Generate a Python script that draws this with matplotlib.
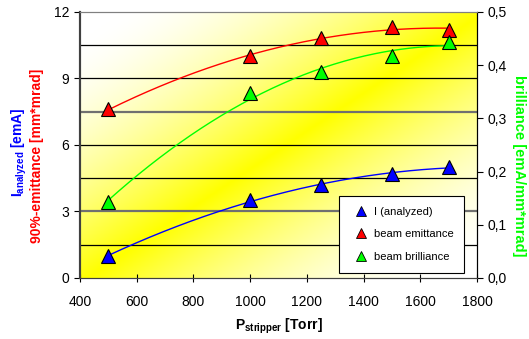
import numpy as np
import matplotlib
matplotlib.use("Agg")
import matplotlib.pyplot as plt
from matplotlib.lines import Line2D

plt.rcParams['font.family'] = ['Liberation Sans', 'DejaVu Sans']

# data
p_stripper = [500, 1000, 1250, 1500, 1700]
i_analyzed = [1.0, 3.5, 4.2, 4.7, 5.0]
emittance = [7.6, 10.0, 10.8, 11.3, 11.2]
brilliance = [0.143, 0.348, 0.387, 0.417, 0.444]

left_ticks = [0, 3, 6, 9, 12]
right_ticks = [0.0, 0.1, 0.2, 0.3, 0.4, 0.5]
right_labels = ['0,0', '0,1', '0,2', '0,3', '0,4', '0,5']
x_ticks = [400, 600, 800, 1000, 1200, 1400, 1600, 1800]

fig = plt.figure(figsize=(5.29, 3.39), dpi=100)
ax = fig.add_axes([0.151, 0.180, 0.751, 0.785])
ax2 = ax.twinx()

# gradient background: white top-left, yellow along the diagonal, pale bottom-right
nx, ny = 300, 200
u = np.linspace(0, 1, nx)[None, :]
v = np.linspace(0, 1, ny)[:, None]
s = u + v
w = np.clip(1 - np.abs(s - 1.02) * 1.1, 0, 1) ** 1.6
img = np.ones((ny, nx, 3))
img[..., 2] = 1 - w
ax.imshow(img, extent=[0, 1, 0, 1], transform=ax.transAxes, aspect='auto',
          origin='upper', zorder=0)

# horizontal grid lines
for yv in [1.5, 4.5, 6, 9, 10.5]:
    ax.axhline(yv, color='black', lw=0.9, zorder=1)
for yv in [3, 7.5]:
    ax.axhline(yv, color='#707070', lw=1.6, zorder=1)

xs = np.linspace(500, 1700, 200)
fit_b = np.polyval(np.polyfit(p_stripper, i_analyzed, 2), xs)
fit_r = np.polyval(np.polyfit(p_stripper, emittance, 2), xs)
fit_g = np.polyval(np.polyfit(p_stripper, brilliance, 2), xs)

ax.plot(xs, fit_b, color='#0000ff', lw=1, zorder=2)
ax.plot(xs, fit_r, color='#ff0000', lw=1, zorder=2)
ax2.plot(xs, fit_g, color='#00ff00', lw=1, zorder=2)

mk = dict(marker='^', ms=10, mec='black', mew=0.8, ls='none', zorder=3)
ax.plot(p_stripper, i_analyzed, mfc='#0000ff', **mk)
ax.plot(p_stripper, emittance, mfc='#ff0000', **mk)
ax2.plot(p_stripper, brilliance, mfc='#00ff00', **mk)

ax.set_xlim(400, 1800)
ax.set_ylim(0, 12)
ax2.set_ylim(0, 0.5)
ax.set_xticks(x_ticks)
ax.set_yticks(left_ticks)
ax2.set_yticks(right_ticks)
ax2.set_yticklabels(right_labels)

ax.tick_params(axis='x', direction='inout', length=6, labelsize=10, pad=9)
ax.tick_params(axis='y', direction='out', length=4, labelsize=10)
ax2.tick_params(axis='y', direction='out', length=4, labelsize=10)

for a in (ax, ax2):
    a.spines['top'].set_color('#808080')
    a.spines['top'].set_linewidth(0.8)
    a.spines['left'].set_linewidth(1.5)
    a.spines['left'].set_color('#404040')
    a.spines['bottom'].set_color('#404040')
    a.spines['right'].set_color('black')

ax.set_xlabel(r'P$_{\mathregular{stripper}}$ [Torr]', fontsize=10, fontweight='bold', labelpad=6)

# two-colour left label
fig.text(0.036, 0.55, r'I$_{\mathregular{analyzed}}$ [emA]', rotation=90, color='#0000ff',
         fontsize=10, fontweight='bold', ha='center', va='center')
fig.text(0.069, 0.54, '90%-emittance [mm*mrad]', rotation=90, color='#ff0000',
         fontsize=10, fontweight='bold', ha='center', va='center')
fig.text(0.982, 0.51, 'brilliance [emA/mm*mrad]', rotation=-90, color='#00ff00',
         fontsize=10.5, fontweight='bold', ha='center', va='center')

handles = [
    Line2D([], [], marker='^', ms=7, mfc='#0000ff', mec='black', mew=0.6, ls='none'),
    Line2D([], [], marker='^', ms=7, mfc='#ff0000', mec='black', mew=0.6, ls='none'),
    Line2D([], [], marker='^', ms=7, mfc='#00ff00', mec='black', mew=0.6, ls='none'),
]
leg = ax2.legend(handles, ['I (analyzed)', 'beam emittance', 'beam brilliance'],
                 loc='lower right', bbox_to_anchor=(0.968, 0.02), fontsize=8,
                 fancybox=False, framealpha=1, edgecolor='black',
                 handletextpad=0.1, handlelength=2.0, labelspacing=1.1,
                 borderpad=1.0, borderaxespad=0)
leg.get_frame().set_linewidth(0.8)
leg.set_zorder(5)

fig.savefig('out.png', dpi=100)
